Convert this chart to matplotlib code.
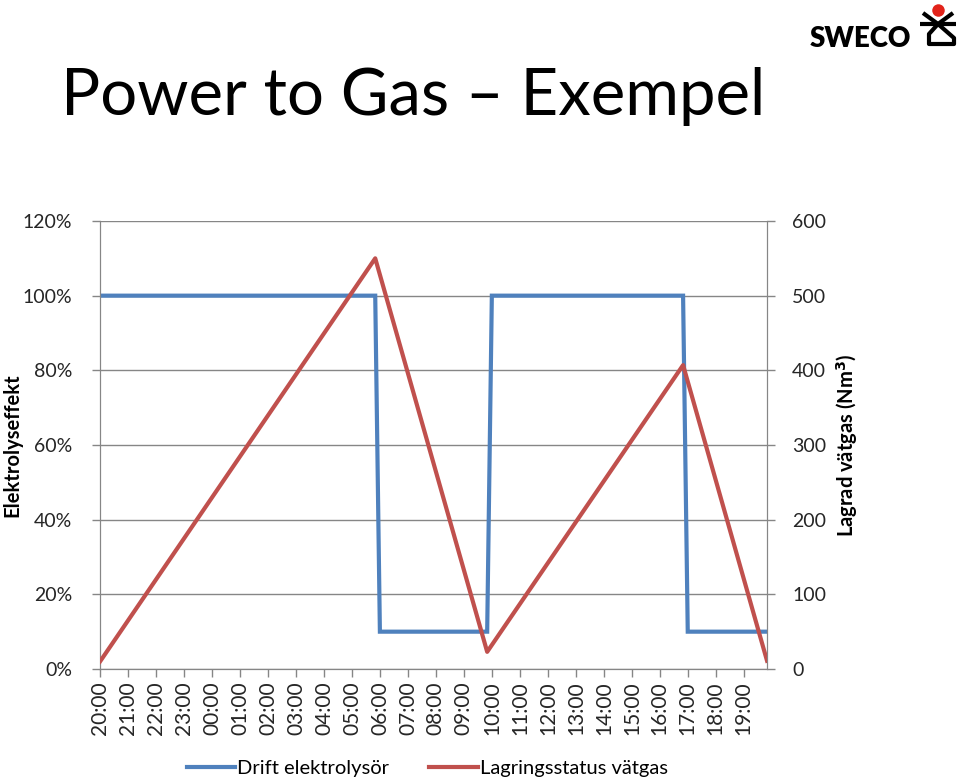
"""Power to Gas - Exempel: electrolyser load and stored hydrogen"""
import matplotlib
matplotlib.use("Agg")
import matplotlib.pyplot as plt
from matplotlib.lines import Line2D
from matplotlib.ticker import FuncFormatter

plt.rcParams['font.family'] = ['Lato', 'DejaVu Sans']

# hour labels on the category axis
hour_labels = ["20:00", "21:00", "22:00", "23:00", "00:00", "01:00", "02:00",
               "03:00", "04:00", "05:00", "06:00", "07:00", "08:00", "09:00",
               "10:00", "11:00", "12:00", "13:00", "14:00", "15:00", "16:00",
               "17:00", "18:00", "19:00"]
axis_end = "19:50"

# Drift elektrolysör (share of rated power), corner points
drift_times = ["20:00", "05:50", "06:00", "09:50", "10:00", "16:50", "17:00", "19:50"]
drift_values = [1.00, 1.00, 0.10, 0.10, 1.00, 1.00, 0.10, 0.10]

# Lagringsstatus vätgas (Nm3), turning points
lager_times = ["20:00", "05:50", "09:50", "16:50", "19:50"]
lager_values = [10, 550, 23, 407, 11]

BLUE = "#4F81BD"
RED = "#C0504D"
GRID = "#868686"
TEXT = "#262626"


def hours_since_start(t, start="20:00"):
    h, m = map(int, t.split(":"))
    h0, m0 = map(int, start.split(":"))
    return ((h * 60 + m) - (h0 * 60 + m0)) % (24 * 60) / 60.0


fig = plt.figure(figsize=(9.6, 7.79), dpi=100)
ax = fig.add_axes([0.1042, 0.1412, 0.6948, 0.5751])
ax2 = ax.twinx()

xd = [hours_since_start(t) for t in drift_times]
xl = [hours_since_start(t) for t in lager_times]

ax.plot(xd, drift_values, color=BLUE, lw=3, solid_joinstyle='miter', zorder=3)
ax2.plot(xl, lager_values, color=RED, lw=3, zorder=3)

# left axis
ax.set_ylim(0, 1.2)
ax.set_yticks([i * 0.2 for i in range(7)])
ax.yaxis.set_major_formatter(FuncFormatter(lambda v, p: f"{v * 100:.0f}%"))
ax.grid(axis='y', color=GRID, lw=1)
ax.set_axisbelow(True)

# right axis
ax2.set_ylim(0, 600)
ax2.set_yticks(range(0, 601, 100))

# x axis
ticks = [hours_since_start(t) for t in hour_labels]
ax.set_xticks(ticks)
ax.set_xticklabels(hour_labels, rotation=90)
ax.set_xlim(0, hours_since_start(axis_end))

for a in (ax, ax2):
    a.spines['top'].set_visible(False)
    for s in ('left', 'right', 'bottom'):
        a.spines[s].set_color(GRID)
    a.tick_params(colors=GRID, labelcolor=TEXT, labelsize=14, length=6, width=1)
ax.tick_params(axis='x', labelsize=15, pad=3)
ax.tick_params(axis='y', pad=14)
ax2.tick_params(axis='y', pad=12)

ax.set_ylabel("Elektrolyseffekt", fontsize=14.5, fontweight='bold', color='black')
ax.yaxis.set_label_coords(-0.117, 0.5)
ax2.set_ylabel("Lagrad vätgas (Nm$^\\mathbf{3}$)", fontsize=14.5, fontweight='bold',
               color='black')
ax2.yaxis.set_label_coords(1.10, 0.5)

# legend
handles = [Line2D([], [], color=BLUE, lw=3),
           Line2D([], [], color=RED, lw=3)]
fig.legend(handles, ["Drift elektrolysör", "Lagringsstatus vätgas"],
           loc='center', bbox_to_anchor=(0.445, 0.014), ncol=2, frameon=False,
           fontsize=14.5, handlelength=2.4, handletextpad=0.1, columnspacing=2.0)

# title
fig.text(0.064, 0.853, "Power to Gas – Exempel", fontsize=47, color='black',
         ha='left', va='baseline')

# SWECO logo
fig.text(0.843, 0.94, "SWECO", fontsize=20, fontweight='heavy', color='black',
         ha='left', va='baseline')
logo = dict(color='black', lw=3, transform=fig.transFigure, clip_on=False,
            solid_capstyle='butt')
W, H = 960, 779


def px(x, y):
    return x / W, 1 - y / H


for pts in [[(923, 13), (938, 24), (953, 13)],
            [(920, 24), (956, 24)],
            [(938, 24), (929, 34), (929, 44), (954, 44), (954, 38), (938, 24)]]:
    fx = [px(x, y)[0] for x, y in pts]
    fy = [px(x, y)[1] for x, y in pts]
    fig.add_artist(Line2D(fx, fy, **logo))
cx, cy = px(938, 10)
fig.add_artist(Line2D([cx], [cy], marker='o', ms=9, color='#E2231A', mec='none',
                      transform=fig.transFigure, clip_on=False))

fig.savefig("out.png", dpi=100)
